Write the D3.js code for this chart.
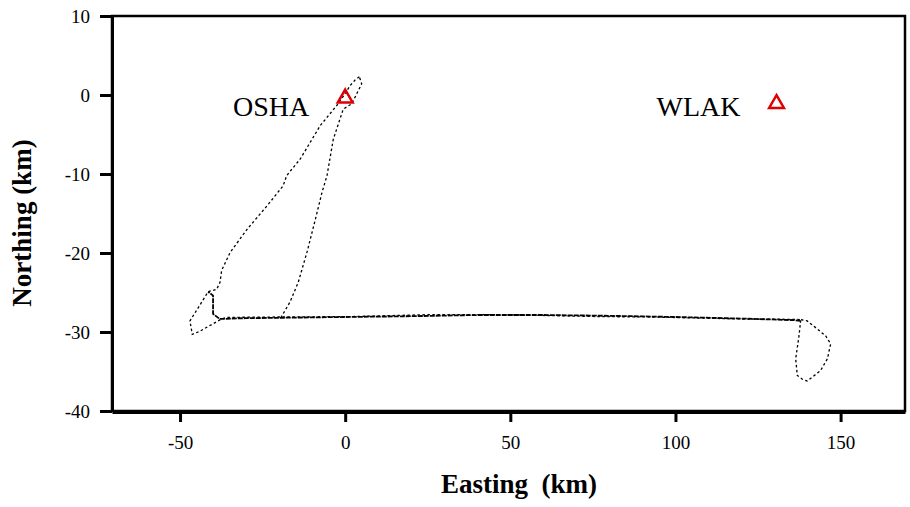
<!DOCTYPE html>
<html>
<head>
<meta charset="utf-8">
<script src="https://cdn.jsdelivr.net/npm/d3@7/dist/d3.min.js"></script>
<style>
  body { margin: 0; background: #fff; }
  svg { display: block; }
</style>
</head>
<body>
<svg id="chart" width="910" height="507"></svg>
<script>
// ---- data (km) ----
const xTicks = [-50, 0, 50, 100, 150];
const yTicks = [10, 0, -10, -20, -30, -40];

const stationNames = ["OSHA", "WLAK"];
const stationE = [0, 130.6];
const stationN = [-0.4, -1.1];

// outbound: down outer line, small western loop, eastward pass
const outboundE = [4.3, 3.0, 1.5, -0.3, -2.5, -7.6, -13.6, -17.7, -18.8, -23.6, -29.7, -34.8, -37.4, -37.9, -38.9,
  -41.5, -44, -47, -46.3, -44, -41.9, -38.9, -37.2, -35.8, -20, 1.5, 25.8, 47, 77, 92.4, 119.7, 136.4, 138];
const outboundN = [2.3, 1.9, 1.2, 0.0, -1.3, -3.9, -8.1, -10.2, -11.5, -14.0, -17.0, -19.9, -22.2, -23.7, -24.6,
  -24.9, -26.6, -28.6, -30.3, -29.9, -29.4, -28.7, -28.3, -28.15, -28.1, -28.05, -27.8, -27.8, -28.05, -28.1, -28.35, -28.4, -28.45];

// eastern loop
const loopE = [138, 139.9, 142.9, 145.5, 147, 146, 143.9, 139.9, 138.5, 136.9, 136.4, 137.4, 137.9];
const loopN = [-28.45, -28.6, -29.6, -30.5, -31.5, -33.4, -34.9, -36.2, -36.0, -35.5, -33.4, -30.5, -28.6];

// westward return pass
const returnE = [137.9, 136, 120, 100, 80, 60, 40, 20, 0, -19.5, -30, -38, -40, -40, -41.5];
const returnN = [-28.6, -28.5, -28.3, -28.1, -27.95, -27.85, -27.85, -28.0, -28.1, -28.2, -28.25, -28.35, -27.7, -25.4, -24.9];

// inner line back north to OSHA
const innerE = [-19.5, -18.8, -16.7, -14.2, -11.5, -9, -7, -5.5, -3.6, -0.6, 2, 5, 4.3];
const innerN = [-28.2, -27.7, -26.2, -23.7, -19.8, -15.7, -12.3, -10.2, -5.6, -1.8, -1.1, 1.4, 2.3];

// ---- layout ----
const svg = d3.select("#chart");
const mLeft = 112, mRight = 905, mTop = 16, mBottom = 411;

const x = d3.scaleLinear().domain([-70.6, 169.5]).range([mLeft, mRight]);
const y = d3.scaleLinear().domain([-40, 10]).range([mBottom, mTop]);

const serif = "'Liberation Serif', 'Times New Roman', serif";
const fmt = d => String(d);

// frame
svg.append("rect")
  .attr("x", mLeft).attr("y", mTop)
  .attr("width", mRight - mLeft).attr("height", mBottom - mTop)
  .attr("fill", "none").attr("stroke", "#000").attr("stroke-width", 2.5);

// axes
const yAxis = svg.append("g")
  .attr("transform", `translate(${mLeft},0)`)
  .call(d3.axisLeft(y).tickValues(yTicks).tickSize(12).tickSizeOuter(0).tickPadding(10).tickFormat(fmt));
const xAxis = svg.append("g")
  .attr("transform", `translate(0,${mBottom + 1})`)
  .call(d3.axisBottom(x).tickValues(xTicks).tickSize(10).tickSizeOuter(0).tickPadding(10).tickFormat(fmt));

[xAxis, yAxis].forEach(g => {
  g.select(".domain").attr("stroke-width", 3);
  g.selectAll(".tick line").attr("stroke-width", 3);
  g.selectAll(".tick text")
    .attr("font-family", serif).attr("font-size", 19).attr("fill", "#000");
});
yAxis.selectAll(".tick text").attr("dy", "0.36em");
xAxis.selectAll(".tick text").attr("dy", "0.9em");

// track
const line = d3.line().x(d => x(d[0])).y(d => y(d[1]));
const legs = [
  [outboundE, outboundN],
  [loopE, loopN],
  [returnE, returnN],
  [innerE, innerN]
];
const trackG = svg.append("g");
legs.forEach(([E, N], i) => {
  trackG.append("path")
    .attr("d", line(E.map((e, k) => [e, N[k]])))
    .attr("fill", "none")
    .attr("stroke", "#000")
    .attr("stroke-width", i === 2 ? 1.8 : 1.3)
    .attr("stroke-dasharray", i === 2 ? "5,1" : "2.5,2.5");
});

// stations
const tri = d3.symbol().type(d3.symbolTriangle).size(95);
stationNames.forEach((name, i) => {
  svg.append("path")
    .attr("d", tri())
    .attr("transform", `translate(${x(stationE[i])},${y(stationN[i])})`)
    .attr("fill", "none")
    .attr("stroke", "#e00000")
    .attr("stroke-width", 2.5);
  svg.append("text")
    .attr("x", x(stationE[i]) - 36)
    .attr("y", y(-2.6))
    .attr("text-anchor", "end")
    .attr("font-family", serif)
    .attr("font-size", 28)
    .attr("fill", "#000")
    .text(name);
});

// axis titles
svg.append("text")
  .attr("x", 519).attr("y", 493)
  .attr("text-anchor", "middle")
  .attr("font-family", serif).attr("font-weight", "bold").attr("font-size", 27)
  .style("white-space", "pre")
  .text("Easting  (km)");
svg.append("text")
  .attr("transform", "translate(31,223) rotate(-90)")
  .attr("text-anchor", "middle")
  .attr("font-family", serif).attr("font-weight", "bold").attr("font-size", 27)
  .text("Northing (km)");
</script>
</body>
</html>
